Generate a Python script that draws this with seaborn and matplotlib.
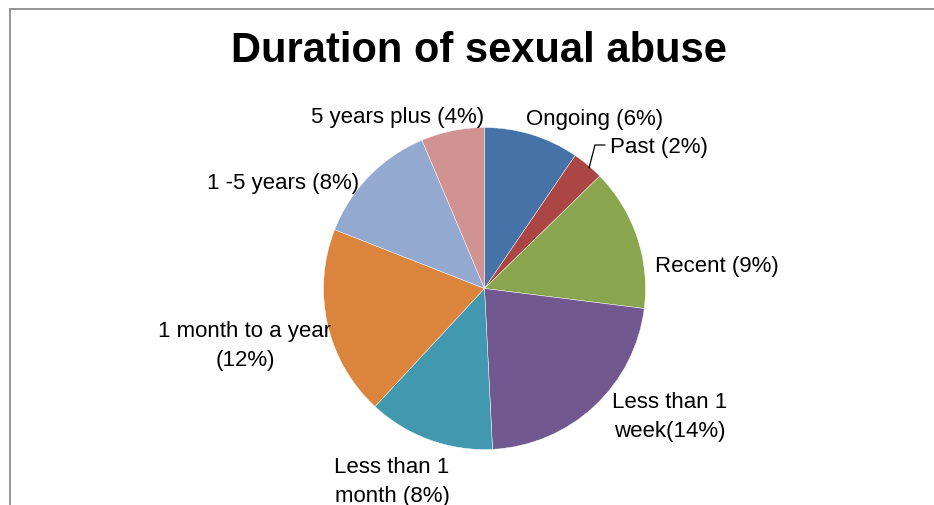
import matplotlib
matplotlib.use("Agg")
import matplotlib.pyplot as plt
from matplotlib.lines import Line2D
import seaborn as sns

# Data
categories = ["Ongoing", "Past", "Recent", "Less than 1 week", "Less than 1 month",
              "1 month to a year", "1 -5 years", "5 years plus"]
percent = [6, 2, 9, 14, 8, 12, 8, 4]
label_texts = ["Ongoing (6%)", "Past (2%)", "Recent (9%)", "Less than 1\nweek(14%)",
               "Less than 1\nmonth (8%)", "1 month to a year\n(12%)",
               "1 -5 years (8%)", "5 years plus (4%)"]
slice_colors = ["#4572A7", "#AA4643", "#89A54E", "#71588F",
                "#4198AF", "#DB843D", "#93A9CF", "#D19392"]

sns.set_theme(style="white")
plt.rcParams["font.family"] = ["Liberation Sans", "DejaVu Sans"]

W, H = 934, 506
fig = plt.figure(figsize=(W / 100, H / 100), dpi=100)
fig.patch.set_facecolor("white")

# pie geometry in pixels
cx, cy, r = 484.5, 289.5, 161.0
ax = fig.add_axes([(cx - r) / W, (H - cy - r) / H, 2 * r / W, 2 * r / H])
palette = sns.color_palette(slice_colors)
ax.pie(percent, colors=palette, startangle=90, counterclock=False, radius=1.0,
       wedgeprops=dict(edgecolor="white", linewidth=0.3))
ax.set_xlim(-1, 1)
ax.set_ylim(-1, 1)
ax.set_aspect("equal")
ax.axis("off")

def to_fig(px, py):
    return px / W, 1 - py / H

# label centres in pixels
label_pos = [(595, 119), (659, 148), (717, 267), (670, 417),
             (392, 482), (245, 346), (283, 183), (398, 117)]
for txt, (px, py) in zip(label_texts, label_pos):
    fx, fy = to_fig(px, py)
    fig.text(fx, fy, txt, ha="center", va="center", fontsize=16,
             color="#000000", linespacing=1.45)

# leader line for the small slice
lx = [589, 595, 605]
ly = [169, 146, 146]
fig.add_artist(Line2D([x / W for x in lx], [1 - y / H for y in ly],
                      color="black", linewidth=0.9))

# title
tx, ty = to_fig(479, 51)
fig.text(tx, ty, "Duration of sexual abuse", ha="center", va="center",
         fontsize=30, fontweight="bold", color="black")

# chart frame (top and left edges)
fig.add_artist(Line2D([9.5 / W, 1.0], [1 - 9.5 / H, 1 - 9.5 / H],
                      color="#8c8c8c", linewidth=1.3))
fig.add_artist(Line2D([9.5 / W, 9.5 / W], [0.0, 1 - 9.5 / H],
                      color="#8c8c8c", linewidth=1.3))

fig.savefig("out.png", dpi=100, facecolor="white")
